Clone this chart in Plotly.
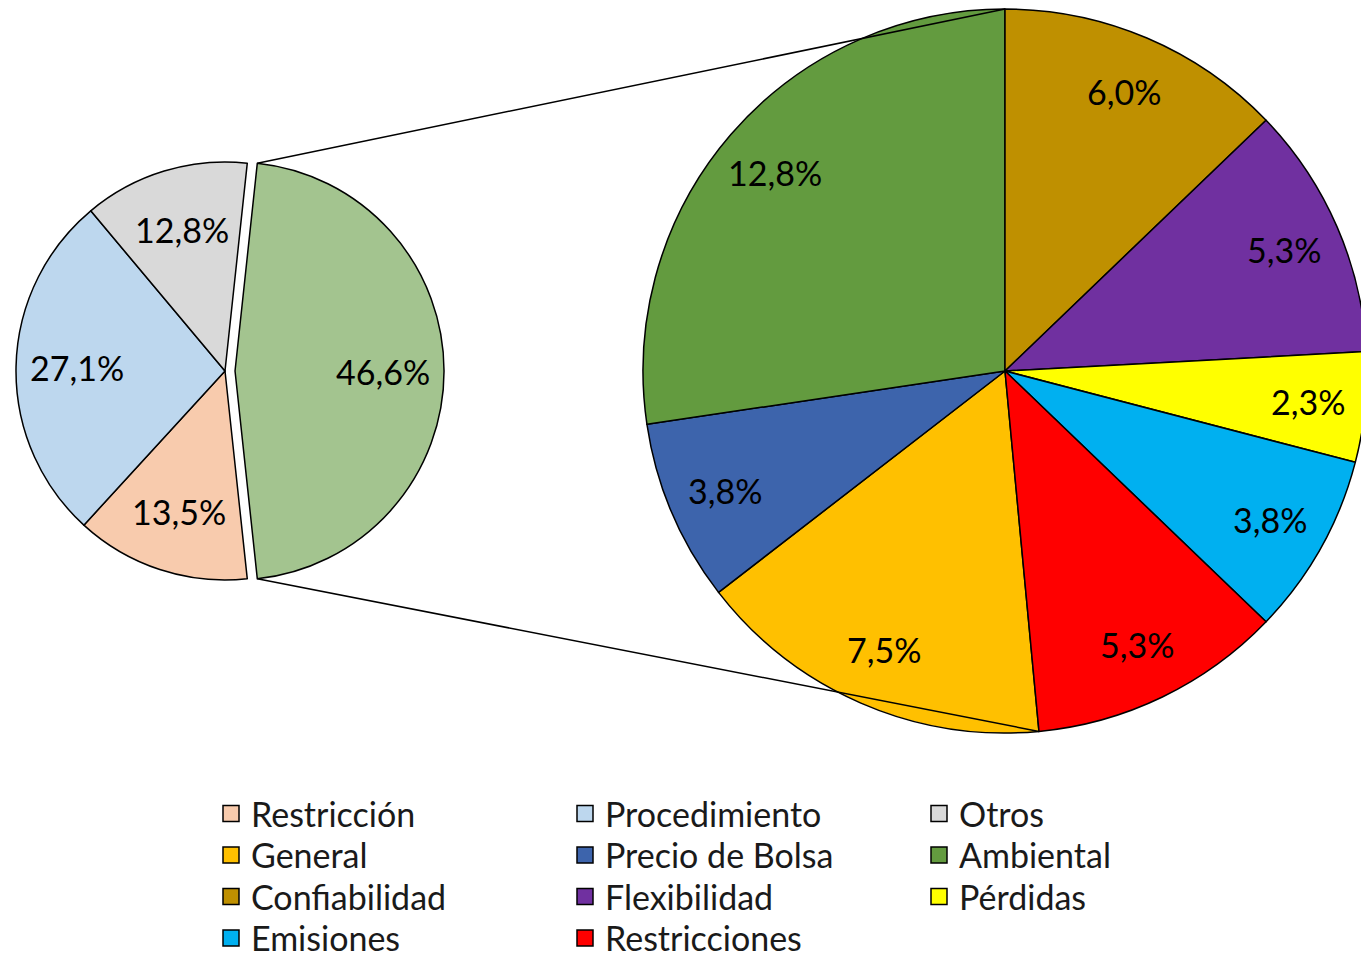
import math
import plotly.graph_objects as go

# ---------------- data ----------------
left_labels = ["Desglose", "Restricción", "Procedimiento", "Otros"]
left_values = [46.6, 13.5, 27.1, 12.8]
left_colors = ["#A3C48F", "#F8CBAD", "#BDD7EE", "#D9D9D9"]

right_labels = ["General", "Precio de Bolsa", "Ambiental", "Confiabilidad",
                "Flexibilidad", "Pérdidas", "Emisiones", "Restricciones"]
right_values = [7.5, 3.8, 12.8, 6.0, 5.3, 2.3, 3.8, 5.3]
right_colors = ["#FFC000", "#3D64AC", "#639B3F", "#BF9000",
                "#7030A0", "#FFFF00", "#00B0F0", "#FF0000"]

legend_rows = [["Restricción", "Procedimiento", "Otros"],
               ["General", "Precio de Bolsa", "Ambiental"],
               ["Confiabilidad", "Flexibilidad", "Pérdidas"],
               ["Emisiones", "Restricciones"]]

# ---------------- geometry (page pixels) ----------------
W, H = 1368, 959             # a little wider than the window: right pie is cut at the edge
OFF = 0
FONT = "Lato"
FS = 34
L_CX, L_CY, L_R, L_PULL = 225, 371, 209, 0.048
R_CX, R_CY, R_R = 1005, 371, 362
L_FRAC, R_FRAC = 0.71, 0.84
LEG_X = 211
LEG_ROW_Y = [814, 855.5, 897, 938.5]

def px2paper(x, y):
    return (x - OFF) / W, 1 - (y - OFF) / H

def domain(cx, cy, half):
    x0, y1 = px2paper(cx - half, cy - half)
    x1, y0 = px2paper(cx + half, cy + half)
    return dict(x=[max(0, x0), min(1, x1)], y=[max(0, y0), min(1, y1)])

def fmt(v):
    return f"{v:.1f}".replace(".", ",") + "%"

l_total = sum(left_values)
l_span0 = left_values[0] / l_total * 360
l_rot = 90 - l_span0 / 2

r_total = sum(right_values)
idx_conf = right_labels.index("Confiabilidad")
r_rot = -sum(right_values[:idx_conf]) / r_total * 360
if r_rot < -180:
    r_rot += 360

def slice_angles(values, rot):
    tot = sum(values)
    a = rot
    out = []
    for v in values:
        span = v / tot * 360
        out.append((a, a + span / 2, a + span))
        a += span
    return out

def pt(cx, cy, r, ang):
    t = math.radians(ang)
    return cx + r * math.sin(t), cy - r * math.cos(t)

fig = go.Figure()

fig.add_trace(go.Pie(
    labels=left_labels, values=left_values, sort=False, direction="clockwise",
    rotation=l_rot, pull=[L_PULL, 0, 0, 0],
    marker=dict(colors=left_colors, line=dict(color="black", width=1.5)),
    textinfo="none", showlegend=False,
    domain=domain(L_CX, L_CY, L_R * (1 + L_PULL)),
))
fig.add_trace(go.Pie(
    labels=right_labels, values=right_values, sort=False, direction="clockwise",
    rotation=r_rot,
    marker=dict(colors=right_colors, line=dict(color="black", width=1.5)),
    textinfo="none", showlegend=False,
    domain=domain(R_CX, R_CY, R_R),
))

# legend entries, one legend per row
color_of = dict(zip(left_labels + right_labels, left_colors + right_colors))
legend_layouts = {}
for k, row in enumerate(legend_rows):
    lname = "legend" if k == 0 else f"legend{k + 1}"
    for lab in row:
        fig.add_trace(go.Scatter(
            x=[None], y=[None], mode="markers", name=lab, legend=lname,
            marker=dict(symbol="square", size=16, color=color_of[lab],
                        line=dict(color="black", width=1.5)),
            hoverinfo="skip", showlegend=True,
        ))
    lx, ly = px2paper(LEG_X, LEG_ROW_Y[k])
    legend_layouts[lname] = dict(
        orientation="h", entrywidth=309, entrywidthmode="pixels",
        x=lx, xanchor="left", y=ly, yanchor="middle",
        font=dict(family=FONT, size=FS, color="#1a1a1a"),
        bgcolor="rgba(0,0,0,0)", traceorder="normal",
    )

annotations = []
for i, (a0, am, a1) in enumerate(slice_angles(left_values, l_rot)):
    pull = L_PULL if i == 0 else 0
    cx, cy = pt(L_CX, L_CY, pull * L_R, am)
    x, y = pt(cx, cy, L_FRAC * L_R, am)
    xp, yp = px2paper(x, y)
    annotations.append(dict(x=xp, y=yp, xref="paper", yref="paper", text=fmt(left_values[i]),
                            showarrow=False, font=dict(family=FONT, size=FS, color="black"),
                            xanchor="center", yanchor="middle"))
for i, (a0, am, a1) in enumerate(slice_angles(right_values, r_rot)):
    x, y = pt(R_CX, R_CY, R_FRAC * R_R, am)
    xp, yp = px2paper(x, y)
    annotations.append(dict(x=xp, y=yp, xref="paper", yref="paper", text=fmt(right_values[i]),
                            showarrow=False, font=dict(family=FONT, size=FS, color="black"),
                            xanchor="center", yanchor="middle"))

# connector lines between the pulled slice and the second pie
la0, lam, la1 = slice_angles(left_values, l_rot)[0]
gcx, gcy = pt(L_CX, L_CY, L_PULL * L_R, lam)
top_l = pt(gcx, gcy, L_R, la0)
bot_l = pt(gcx, gcy, L_R, la1)
r_angles = slice_angles(right_values, r_rot)
top_r = pt(R_CX, R_CY, R_R, r_angles[idx_conf][0])
bot_r = pt(R_CX, R_CY, R_R, r_angles[0][0])
shapes = []
for p, q in [(top_l, top_r), (bot_l, bot_r)]:
    x0, y0 = px2paper(*p)
    x1, y1 = px2paper(*q)
    shapes.append(dict(type="line", xref="paper", yref="paper", x0=x0, y0=y0, x1=x1, y1=y1,
                       line=dict(color="black", width=1.5)))

fig.update_layout(
    width=W, height=H,
    margin=dict(l=0, r=0, t=0, b=0, autoexpand=False),
    paper_bgcolor="white", plot_bgcolor="white",
    xaxis=dict(visible=False), yaxis=dict(visible=False),
    annotations=annotations, shapes=shapes,
    separators=",.",
    **legend_layouts,
)

fig.write_html(
    "out.html",
    config={"displayModeBar": False},
    post_script="document.body.style.margin='0';"
                "document.documentElement.style.overflow='hidden';"
                "document.body.style.overflow='hidden';",
)
